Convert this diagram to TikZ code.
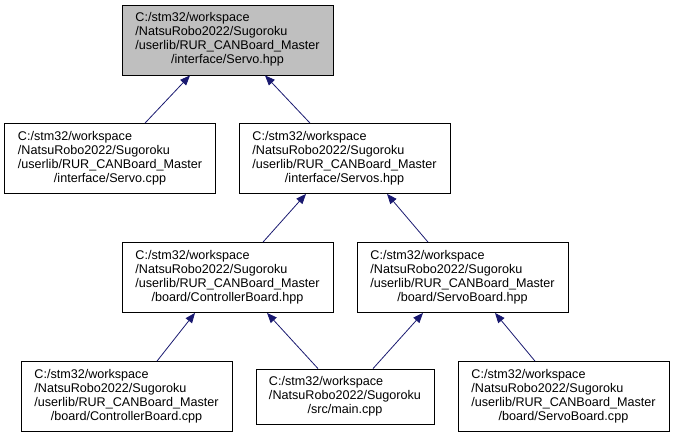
\documentclass[tikz,border=0pt]{standalone}
\usepackage{fontspec}
\setmainfont{Liberation Sans}
\usetikzlibrary{arrows.meta}
\definecolor{edgeblue}{HTML}{191970}
\definecolor{rootgray}{HTML}{BFBFBF}
% label of a file below userlib
\newcommand{\flbl}[1]{\begin{tabular}{@{}l@{}}C:/stm32/workspace\\/NatsuRobo2022/Sugoroku\\/userlib/RUR\_CANBoard\_Master\\\multicolumn{1}{@{}c@{}}{#1}\end{tabular}}
\tikzset{
  file/.style={draw=black, line width=0.8pt, rectangle, inner sep=0pt,
    minimum width=211pt, minimum height=70pt,
    font=\fontsize{12.6}{14}\selectfont},
  dep/.style={draw=edgeblue, line width=0.8pt, {Triangle[length=10pt,width=8pt]}-}
}
\begin{document}
\begin{tikzpicture}[x=1pt,y=-1pt]
        \useasboundingbox (0,0) rectangle (675,437);
        % files
        \node [file, fill=rootgray] (servohpp) at (227.5,40) {\flbl{/interface/Servo.hpp}};
        \node [file] (servocpp) at (110,158.5) {\flbl{/interface/Servo.cpp}};
        \node [file] (servoshpp) at (344.5,158.5) {\flbl{/interface/Servos.hpp}};
        \node [file] (ctrlhpp) at (227.5,277.5) {\flbl{/board/ControllerBoard.hpp}};
        \node [file] (sbhpp) at (462.5,277.5) {\flbl{/board/ServoBoard.hpp}};
        \node [file] (ctrlcpp) at (126.5,396.5) {\flbl{/board/ControllerBoard.cpp}};
        \node [file, minimum width=178pt, minimum height=55pt] (maincpp) at (345,396.5)
              {\begin{tabular}{@{}l@{}}C:/stm32/workspace\\/NatsuRobo2022/Sugoroku\\\multicolumn{1}{@{}c@{}}{/src/main.cpp}\end{tabular}};
        \node [file] (sbcpp) at (563.5,396.5) {\flbl{/board/ServoBoard.cpp}};
        % includes
        \draw [dep] ([xshift=-37.5pt]servohpp.south) -- ([xshift=35pt]servocpp.north);
        \draw [dep] ([xshift=37.5pt]servohpp.south) -- ([xshift=-34.5pt]servoshpp.north);
        \draw [dep] ([xshift=-38.5pt]servoshpp.south) -- ([xshift=35.5pt]ctrlhpp.north);
        \draw [dep] ([xshift=42.5pt]servoshpp.south) -- ([xshift=-34.5pt]sbhpp.north);
        \draw [dep] ([xshift=-32.5pt]ctrlhpp.south) -- ([xshift=30.5pt]ctrlcpp.north);
        \draw [dep] ([xshift=39.5pt]ctrlhpp.south) -- ([xshift=-27pt]maincpp.north);
        \draw [dep] ([xshift=-39.5pt]sbhpp.south) -- ([xshift=28pt]maincpp.north);
        \draw [dep] ([xshift=32.5pt]sbhpp.south) -- ([xshift=-28.5pt]sbcpp.north);
\end{tikzpicture}
\end{document}
